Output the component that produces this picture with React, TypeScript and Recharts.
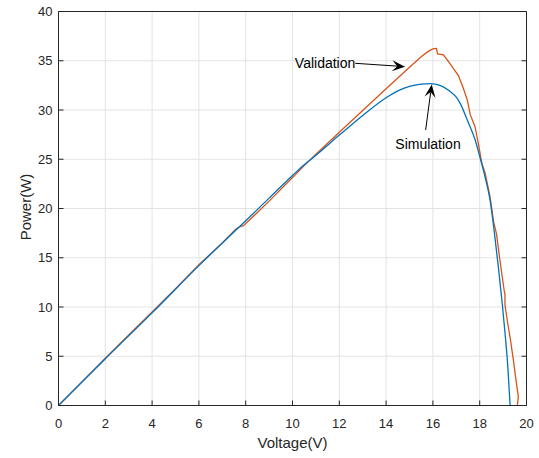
import { LineChart, Line, XAxis, YAxis, CartesianGrid, ReferenceLine, ReferenceDot } from 'recharts';

const AXIS = '#262626';
const GRID = '#e3e3e3';
const ORANGE = '#D95319';
const BLUE = '#0072BD';
const FONT = '"Liberation Sans", Arial, sans-serif';

const X_TICKS = [0, 2, 4, 6, 8, 10, 12, 14, 16, 18, 20];
const Y_TICKS = [0, 5, 10, 15, 20, 25, 30, 35, 40];

// measured curve (validation)
const validationV = [
  0, 1, 2, 3, 4, 5, 6, 7, 7.55, 7.7, 7.9, 8.5, 9, 10, 10.5, 11, 12, 13, 14, 15, 15.5, 15.8, 16.0, 16.15,
  16.2, 16.45, 16.73, 17.09, 17.3, 17.47, 17.6, 17.8, 17.94, 18.09, 18.23, 18.44, 18.6, 18.72, 18.85,
  18.95, 19.05, 19.08, 19.08, 19.2, 19.3, 19.44, 19.55, 19.65, 19.61,
];
const validationP = [
  0, 2.4, 4.8, 7.15, 9.5, 11.85, 14.3, 16.5, 17.85, 18.1, 18.25, 19.6, 20.75, 23.15, 24.35, 25.5, 27.75,
  29.95, 32.15, 34.35, 35.4, 35.95, 36.2, 36.25, 35.7, 35.6, 34.7, 33.5, 32.2, 31.0, 29.5, 28.3, 26.6,
  24.6, 23.6, 21.2, 18.6, 17.4, 15.0, 13.3, 11.6, 11.3, 10.2, 8.3, 6.9, 4.6, 2.6, 0.9, 0,
];

// model curve (simulation)
const simulationV = [
  0, 2, 4, 6, 8, 9, 10, 10.5, 11, 12, 13, 14, 14.5, 15, 15.5, 15.9, 16.3, 16.7, 17.0, 17.16, 17.5, 17.8,
  18.0, 18.23, 18.44, 18.62, 18.8, 18.97, 19.1, 19.2, 19.3,
];
const simulationP = [
  0, 4.75, 9.4, 14.2, 18.75, 21.05, 23.35, 24.45, 25.4, 27.45, 29.45, 31.25, 31.95, 32.4, 32.62, 32.68,
  32.5, 31.95, 31.3, 30.7, 28.8, 27.0, 25.3, 23.2, 20.9, 17.7, 14.0, 10.2, 6.9, 4.0, 0,
];

const validationData = validationV.map((v, i) => ({ v, p: validationP[i] }));
const simulationData = simulationV.map((v, i) => ({ v, p: simulationP[i] }));

/* eslint-disable @typescript-eslint/no-explicit-any */
function BottomTick(props: any) {
  const { x, y, payload } = props;
  return (
    <g>
      <line x1={x} y1={y} x2={x} y2={y - 5} stroke={AXIS} />
      <text x={x} y={y + 22} textAnchor="middle" fontSize={13} fill={AXIS} fontFamily={FONT}>
        {payload.value}
      </text>
    </g>
  );
}

function TopTick(props: any) {
  const { x, y } = props;
  return <line x1={x} y1={y} x2={x} y2={y + 5} stroke={AXIS} />;
}

function LeftTick(props: any) {
  const { x, y, payload } = props;
  return (
    <g>
      <line x1={x} y1={y} x2={x + 5} y2={y} stroke={AXIS} />
      <text x={x - 6} y={y + 4.5} textAnchor="end" fontSize={13} fill={AXIS} fontFamily={FONT}>
        {payload.value}
      </text>
    </g>
  );
}

function RightTick(props: any) {
  const { x, y } = props;
  return <line x1={x} y1={y} x2={x - 5} y2={y} stroke={AXIS} />;
}

function Arrow(props: any) {
  const { x1, y1, x2, y2 } = props;
  const dx = x2 - x1;
  const dy = y2 - y1;
  const len = Math.sqrt(dx * dx + dy * dy) || 1;
  const ux = dx / len;
  const uy = dy / len;
  const head = 13;
  const half = 5.5;
  const bx = x2 - ux * head;
  const by = y2 - uy * head;
  const nx = x2 - ux * head * 0.6;
  const ny = y2 - uy * head * 0.6;
  const pts = [
    [x2, y2],
    [bx - uy * half, by + ux * half],
    [nx, ny],
    [bx + uy * half, by - ux * half],
  ]
    .map((p) => p.join(','))
    .join(' ');
  return (
    <g>
      <line x1={x1} y1={y1} x2={nx} y2={ny} stroke="#000" strokeWidth={1} />
      <polygon points={pts} fill="#000" />
    </g>
  );
}

function annotationText(text: string, anchor: 'start' | 'middle') {
  return function AnnotationText(props: any) {
    const { cx, cy } = props;
    return (
      <text x={cx} y={cy + 5} textAnchor={anchor} fontSize={14} fill="#000" fontFamily={FONT}>
        {text}
      </text>
    );
  };
}

export default function App() {
  return (
    <div style={{ position: 'absolute', left: 0, top: 0, background: '#fff' }}>
      <LineChart
        width={539}
        height={458}
        margin={{ top: 10.5, right: 11.5, bottom: 22.5, left: 18.5 }}
        style={{ fontFamily: FONT }}
      >
        <CartesianGrid stroke={GRID} strokeWidth={1} />
        <XAxis
          dataKey="v"
          type="number"
          domain={[0, 20]}
          ticks={X_TICKS}
          allowDataOverflow
          height={30}
          tickSize={0}
          tickMargin={0}
          tick={BottomTick}
          stroke={AXIS}
          label={() => (
            <text x={292.5} y={448} textAnchor="middle" fontSize={15} fill={AXIS} fontFamily={FONT}>
              Voltage(V)
            </text>
          )}
        />
        <XAxis
          xAxisId="top"
          orientation="top"
          type="number"
          domain={[0, 20]}
          ticks={X_TICKS}
          allowDataOverflow
          height={1}
          tickSize={0}
          tickMargin={0}
          tick={TopTick}
          stroke={AXIS}
        />
        <YAxis
          type="number"
          domain={[0, 40]}
          ticks={Y_TICKS}
          allowDataOverflow
          width={40}
          tickSize={0}
          tickMargin={0}
          tick={LeftTick}
          stroke={AXIS}
          label={() => (
            <text
              x={25}
              y={207}
              transform="rotate(-90 25 207)"
              textAnchor="middle"
              dominantBaseline="central"
              fontSize={15}
              fill={AXIS}
              fontFamily={FONT}
            >
              Power(W)
            </text>
          )}
        />
        <YAxis
          yAxisId="right"
          orientation="right"
          type="number"
          domain={[0, 40]}
          ticks={Y_TICKS}
          allowDataOverflow
          width={1}
          tickSize={0}
          tickMargin={0}
          tick={RightTick}
          stroke={AXIS}
        />
        <Line
          data={validationData}
          dataKey="p"
          type="linear"
          stroke={ORANGE}
          strokeWidth={1.3}
          dot={false}
          activeDot={false}
          isAnimationActive={false}
        />
        <Line
          data={simulationData}
          dataKey="p"
          type="monotone"
          stroke={BLUE}
          strokeWidth={1.3}
          dot={false}
          activeDot={false}
          isAnimationActive={false}
        />
        <ReferenceLine
          segment={[
            { x: 12.68, y: 34.74 },
            { x: 14.81, y: 34.4 },
          ]}
          shape={Arrow}
          ifOverflow="visible"
        />
        <ReferenceLine
          segment={[
            { x: 15.69, y: 27.97 },
            { x: 15.95, y: 32.6 },
          ]}
          shape={Arrow}
          ifOverflow="visible"
        />
        <ReferenceDot x={10.1} y={34.8} r={0} shape={annotationText('Validation', 'start')} ifOverflow="visible" />
        <ReferenceDot x={15.79} y={26.54} r={0} shape={annotationText('Simulation', 'middle')} ifOverflow="visible" />
      </LineChart>
    </div>
  );
}
